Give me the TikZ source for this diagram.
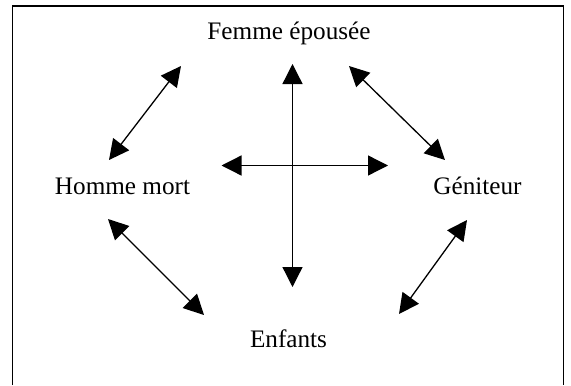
\documentclass[tikz,border=0pt]{standalone}
\usepackage{fontspec}
\setmainfont{Liberation Serif}
\usetikzlibrary{arrows.meta}
\begin{document}
\begin{tikzpicture}[x=0.5pt,y=-0.5pt,
  lbl/.style={anchor=base,inner sep=0pt,font=\fontsize{12.6}{15}\selectfont},
  dbl/.style={line width=0.65pt,{Triangle[length=10pt,width=10pt]}-{Triangle[length=10pt,width=10pt]}},
  frame/.style={line width=0.7pt}]
\useasboundingbox (0,0) rectangle (571,385);
\draw[frame] (12.5,385) -- (12.5,6) -- (563.7,6) -- (563.7,385);
\node[lbl] (femme) at (289,40) {Femme épousée};
\node[lbl] (homme) at (122.5,194) {Homme mort};
\node[lbl] (geni) at (477.5,194) {Géniteur};
\node[lbl] (enf) at (288.5,347) {Enfants};
\coordinate (a1) at (181,66);  \coordinate (a2) at (109,160);
\coordinate (b1) at (349,66);  \coordinate (b2) at (445,160);
\coordinate (c1) at (108,219); \coordinate (c2) at (204,315);
\coordinate (d1) at (467,220); \coordinate (d2) at (399,314);
\coordinate (v1) at (292.5,64);  \coordinate (v2) at (292.5,287);
\coordinate (h1) at (221.5,165.5); \coordinate (h2) at (388,165.5);
\draw[dbl] (a1) -- (a2);
\draw[dbl] (b1) -- (b2);
\draw[dbl] (c1) -- (c2);
\draw[dbl] (d1) -- (d2);
\draw[dbl] (v1) -- (v2);
\draw[dbl] (h1) -- (h2);
\end{tikzpicture}
\end{document}
